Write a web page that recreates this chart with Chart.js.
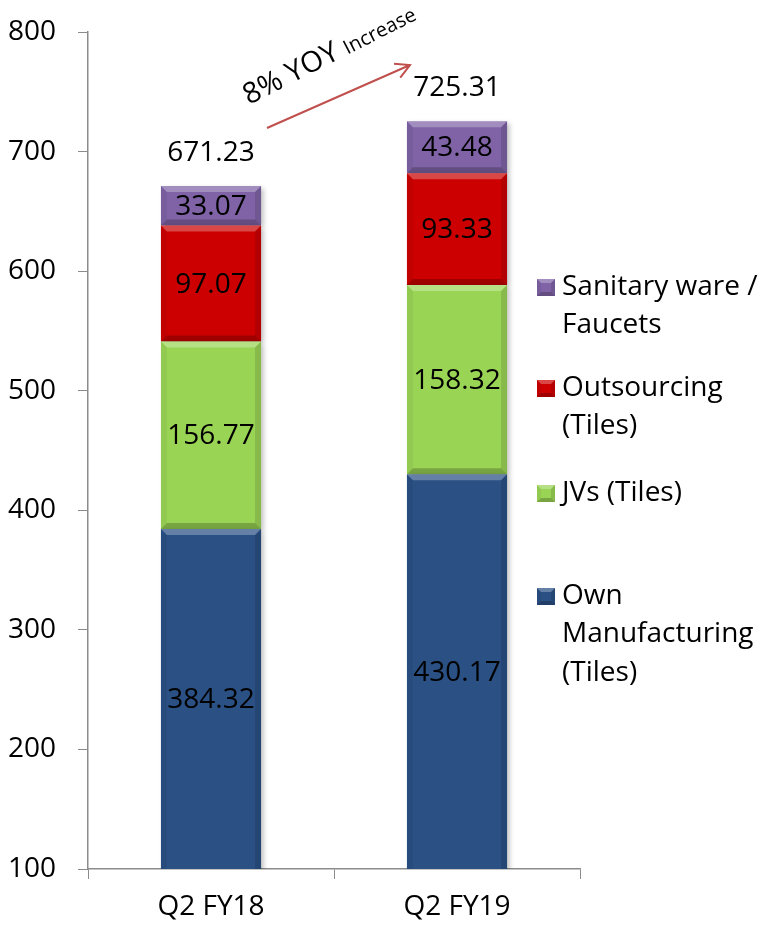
<!DOCTYPE html>
<html>
<head>
<meta charset="utf-8">
<script src="https://cdn.jsdelivr.net/npm/chart.js@4/dist/chart.umd.min.js"></script>
<style>
  html, body { margin: 0; padding: 0; background: #fff; }
</style>
</head>
<body>
<canvas id="chart-area" width="769" height="930"></canvas>
<script>
var categories = ['Q2 FY18', 'Q2 FY19'];
var ownManufacturing = [384.32, 430.17];
var jvsTiles = [156.77, 158.32];
var outsourcing = [97.07, 93.33];
var sanitaryWare = [33.07, 43.48];
var totals = [671.23, 725.31];
var yMin = 100, yMax = 800, yStep = 100;

var seriesNames = [
    ['Own', 'Manufacturing', '(Tiles)'],
    ['JVs (Tiles)'],
    ['Outsourcing', '(Tiles)'],
    ['Sanitary ware /', 'Faucets']
];
var seriesColors = ['#2A5084', '#9AD455', '#CC0000', '#7F63A6'];

var FONT = '"Open Sans", Lato, sans-serif';
var FONT_SIZE = 28;
var AXIS_GREY = '#8C8C8C';

// bevelled look on a rectangle: light top, dark bottom, shaded sides
function bevel(ctx, x0, y0, x1, y1, b) {
    var h = y1 - y0;
    if (h < 2 * b) b = Math.max(1, h / 2);
    ctx.fillStyle = 'rgba(255,255,255,0.28)';
    ctx.beginPath();
    ctx.moveTo(x0, y0); ctx.lineTo(x1, y0); ctx.lineTo(x1 - b, y0 + b); ctx.lineTo(x0 + b, y0 + b);
    ctx.closePath(); ctx.fill();
    ctx.fillStyle = 'rgba(0,0,0,0.22)';
    ctx.beginPath();
    ctx.moveTo(x0, y1); ctx.lineTo(x1, y1); ctx.lineTo(x1 - b, y1 - b); ctx.lineTo(x0 + b, y1 - b);
    ctx.closePath(); ctx.fill();
    ctx.fillStyle = 'rgba(0,0,0,0.05)';
    ctx.beginPath();
    ctx.moveTo(x0, y0); ctx.lineTo(x0 + b, y0 + b); ctx.lineTo(x0 + b, y1 - b); ctx.lineTo(x0, y1);
    ctx.closePath(); ctx.fill();
    ctx.fillStyle = 'rgba(0,0,0,0.12)';
    ctx.beginPath();
    ctx.moveTo(x1, y0); ctx.lineTo(x1 - b, y0 + b); ctx.lineTo(x1 - b, y1 - b); ctx.lineTo(x1, y1);
    ctx.closePath(); ctx.fill();
}

var barShadow = {
    id: 'barShadow',
    beforeDatasetDraw: function(chart) {
        var ctx = chart.ctx;
        ctx.save();
        ctx.shadowColor = 'rgba(0,0,0,0.25)';
        ctx.shadowBlur = 5;
        ctx.shadowOffsetX = 3;
        ctx.shadowOffsetY = 2;
    },
    afterDatasetDraw: function(chart) {
        chart.ctx.restore();
    }
};

var barDecor = {
    id: 'barDecor',
    afterDatasetsDraw: function(chart) {
        var ctx = chart.ctx;
        var area = chart.chartArea;
        ctx.save();
        ctx.beginPath();
        ctx.rect(area.left, area.top, area.right - area.left, area.bottom - area.top);
        ctx.clip();
        chart.data.datasets.forEach(function(ds, i) {
            chart.getDatasetMeta(i).data.forEach(function(bar) {
                var x0 = bar.x - bar.width / 2, x1 = bar.x + bar.width / 2;
                var y0 = Math.min(bar.y, bar.base), y1 = Math.max(bar.y, bar.base);
                bevel(ctx, x0, y0, x1, y1, 6);
            });
        });
        ctx.restore();

        // segment values
        ctx.save();
        ctx.fillStyle = '#000';
        ctx.font = FONT_SIZE + 'px ' + FONT;
        ctx.textAlign = 'center';
        ctx.textBaseline = 'middle';
        chart.data.datasets.forEach(function(ds, i) {
            chart.getDatasetMeta(i).data.forEach(function(bar, j) {
                var top = bar.y, bottom = Math.min(bar.base, area.bottom);
                ctx.fillText(ds.data[j].toFixed(2), bar.x, (top + bottom) / 2 + 1);
            });
        });
        // stack totals
        var last = chart.getDatasetMeta(chart.data.datasets.length - 1);
        last.data.forEach(function(bar, j) {
            ctx.fillText(totals[j].toFixed(2), bar.x, bar.y - 33);
        });
        ctx.restore();
    }
};

var sideLegend = {
    id: 'sideLegend',
    afterDraw: function(chart) {
        var ctx = chart.ctx;
        // first-line y of each entry, top entry first
        var rows = [{ i: 3, y: 287 }, { i: 2, y: 388 }, { i: 1, y: 493 }, { i: 0, y: 596 }];
        var lineH = 38.5;
        ctx.save();
        ctx.font = FONT_SIZE + 'px ' + FONT;
        ctx.textAlign = 'left';
        ctx.textBaseline = 'middle';
        rows.forEach(function(r) {
            var ds = chart.data.datasets[r.i];
            var mx = 537, my = r.y - 8, mw = 18, mh = 17;
            ctx.fillStyle = ds.backgroundColor;
            ctx.fillRect(mx, my, mw, mh);
            bevel(ctx, mx, my, mx + mw, my + mh, 4);
            ctx.fillStyle = '#000';
            seriesNames[r.i].forEach(function(line, k) {
                ctx.fillText(line, 562, r.y + k * lineH);
            });
        });
        ctx.restore();
    }
};

var yoyArrow = {
    id: 'yoyArrow',
    afterDraw: function(chart) {
        var ctx = chart.ctx;
        var x0 = 267, y0 = 128, x1 = 410, y1 = 65;
        var ang = Math.atan2(y1 - y0, x1 - x0);
        ctx.save();
        ctx.strokeStyle = '#C0504D';
        ctx.lineWidth = 2;
        ctx.beginPath();
        ctx.moveTo(x0, y0); ctx.lineTo(x1, y1);
        ctx.moveTo(x1 - 16 * Math.cos(ang - 0.5), y1 - 16 * Math.sin(ang - 0.5));
        ctx.lineTo(x1, y1);
        ctx.lineTo(x1 - 16 * Math.cos(ang + 0.5), y1 - 16 * Math.sin(ang + 0.5));
        ctx.stroke();

        ctx.translate(249, 105);
        ctx.rotate(-27 * Math.PI / 180);
        ctx.fillStyle = '#000';
        ctx.textBaseline = 'alphabetic';
        ctx.textAlign = 'left';
        ctx.font = '29px ' + FONT;
        var big = '8% YOY ';
        ctx.fillText(big, 0, 0);
        var w = ctx.measureText(big).width;
        ctx.font = '20px ' + FONT;
        ctx.fillText('Increase', w, 0);
        ctx.restore();
    }
};

var datasets = [ownManufacturing, jvsTiles, outsourcing, sanitaryWare].map(function(values, i) {
    return {
        label: seriesNames[i].join(' '),
        data: values,
        backgroundColor: seriesColors[i],
        borderWidth: 0,
        categoryPercentage: 1,
        barPercentage: 0.407
    };
});

var config = {
    type: 'bar',
    data: { labels: categories, datasets: datasets },
    options: {
        responsive: false,
        animation: false,
        layout: { padding: { top: 32, right: 189, left: 0, bottom: 0 } },
        plugins: {
            legend: { display: false },
            tooltip: { enabled: false }
        },
        scales: {
            x: {
                stacked: true,
                afterFit: function(scale) { scale.height = 61; },
                grid: { drawOnChartArea: false, tickLength: 10, color: AXIS_GREY, offset: true },
                border: { color: AXIS_GREY, width: 1.5 },
                ticks: { color: '#000', padding: 11, font: { family: FONT, size: FONT_SIZE } }
            },
            y: {
                stacked: true,
                min: yMin, max: yMax,
                afterFit: function(scale) {
                    scale.width = 88;
                    scale.paddingTop = 0;
                    scale.paddingBottom = 0;
                },
                grid: { drawOnChartArea: false, tickLength: 10, color: AXIS_GREY },
                border: { color: AXIS_GREY, width: 1.5 },
                ticks: { stepSize: yStep, color: '#000', padding: 22, font: { family: FONT, size: FONT_SIZE } }
            }
        }
    },
    plugins: [barShadow, barDecor, sideLegend, yoyArrow]
};

var ctx = document.getElementById('chart-area').getContext('2d');
var myChart = new Chart(ctx, config);
</script>
</body>
</html>
